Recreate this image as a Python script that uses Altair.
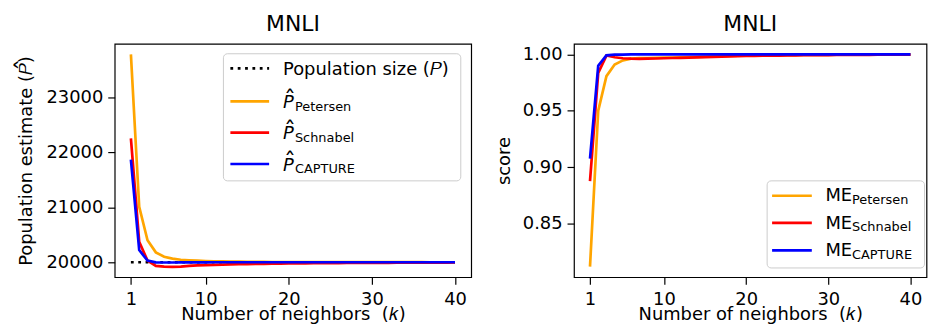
import altair as alt
import pandas as pd

# ---------------- data ----------------
k = list(range(1, 41))

pop_size = [20000] * 40

petersen_est = [23781, 21010, 20400, 20180, 20100, 20065, 20045, 20035, 20028, 20022,
                20018, 20015, 20012, 20010, 20008, 20007, 20006, 20005, 20005, 20004,
                20004, 20003, 20003, 20003, 20002, 20002, 20002, 20002, 20002, 20001,
                20001, 20001, 20001, 20001, 20001, 20001, 20000, 20000, 20000, 20000]

schnabel_est = [22255, 20370, 20030, 19935, 19921, 19915, 19920, 19935, 19942, 19948,
                19952, 19956, 19960, 19963, 19966, 19969, 19971, 19973, 19975, 19977,
                19979, 19980, 19982, 19983, 19984, 19985, 19986, 19987, 19988, 19989,
                19990, 19990, 19991, 19992, 19992, 19993, 19993, 19994, 19994, 19995]

capture_est = [21867, 20221, 20029, 19998, 19996, 19996, 19997, 19998, 19998, 19999,
               20000, 20000, 20000, 20000, 20000, 20000, 20000, 20000, 20000, 20000,
               20000, 20000, 20000, 20000, 20000, 20000, 20000, 20000, 20000, 20000,
               20000, 20000, 20000, 20000, 20000, 20000, 20000, 20000, 20000, 20000]

petersen_me = [0.8117, 0.9500, 0.9807, 0.9910, 0.9947, 0.9963, 0.9967, 0.9968, 0.9969, 0.9971,
               0.9973, 0.9975, 0.9977, 0.9979, 0.9981, 0.9983, 0.9985, 0.9986, 0.9988, 0.9989,
               0.9990, 0.9991, 0.9992, 0.9993, 0.9994, 0.9994, 0.9995, 0.9995, 0.9996, 0.9996,
               0.9997, 0.9997, 0.9997, 0.9998, 0.9998, 0.9998, 0.9998, 0.9999, 0.9999, 0.9999]

schnabel_me = [0.8875, 0.9836, 0.9990, 0.9975, 0.9966, 0.9962, 0.9961, 0.9962, 0.9964, 0.9966,
               0.9968, 0.9970, 0.9972, 0.9974, 0.9976, 0.9978, 0.9980, 0.9982, 0.9984, 0.9986,
               0.9987, 0.9988, 0.9989, 0.9990, 0.9991, 0.9992, 0.9993, 0.9993, 0.9994, 0.9994,
               0.9995, 0.9995, 0.9996, 0.9996, 0.9996, 0.9997, 0.9997, 0.9997, 0.9998, 0.9998]

capture_me = [0.9075, 0.9900, 0.9992, 0.9998, 0.9999, 1.0, 1.0, 1.0, 1.0, 1.0,
              1.0, 1.0, 1.0, 1.0, 1.0, 1.0, 1.0, 1.0, 1.0, 1.0,
              1.0, 1.0, 1.0, 1.0, 1.0, 1.0, 1.0, 1.0, 1.0, 1.0,
              1.0, 1.0, 1.0, 1.0, 1.0, 1.0, 1.0, 1.0, 1.0, 1.0]

x_ticks = [1, 10, 20, 30, 40]
left_ticks = [20000, 21000, 22000, 23000]
right_ticks = [0.85, 0.90, 0.95, 1.00]

sub_names = ["Petersen", "Schnabel", "CAPTURE"]
colors = ["#FFA500", "#FF0000", "#0000FF"]

FONT = "DejaVu Sans"

left_df = pd.DataFrame({"k": k, "pop": pop_size, "Petersen": petersen_est,
                        "Schnabel": schnabel_est, "CAPTURE": capture_est})
right_df = pd.DataFrame({"k": k, "Petersen": petersen_me,
                         "Schnabel": schnabel_me, "CAPTURE": capture_me})

PW_L, PW_R, PH = 359, 355, 235

x_enc = alt.X("k:Q", scale=alt.Scale(domain=[-0.95, 41.95], nice=False, zero=False),
              axis=alt.Axis(values=x_ticks, title="Number of neighbors\u00a0 (𝑘)"))


def y_left(field):
    return alt.Y(f"{field}:Q",
                 scale=alt.Scale(domain=[19728, 23974], nice=False, zero=False),
                 axis=alt.Axis(values=left_ticks, format="d", titlePadding=11,
                               title="Population estimate (𝑃)"))


def y_right(field):
    return alt.Y(f"{field}:Q",
                 scale=alt.Scale(domain=[0.8023, 1.0094], nice=False, zero=False),
                 axis=alt.Axis(values=right_ticks, format=".2f", titlePadding=9,
                               title="score"))


def one(text):
    return pd.DataFrame({"t": [text]})


def legend_box(x0, x1, y0, y1):
    return alt.Chart(one("")).mark_rect(
        cornerRadius=4, fill="white", fillOpacity=0.85, stroke="#cccccc", strokeWidth=1
    ).encode(x=alt.value(x0), x2=alt.value(x1), y=alt.value(y0), y2=alt.value(y1))


def legend_line(x0, x1, y, color, dash=None):
    kw = dict(color=color, strokeWidth=2.7)
    if dash:
        kw["strokeDash"] = dash
    return alt.Chart(one("")).mark_rule(**kw).encode(
        x=alt.value(x0), x2=alt.value(x1), y=alt.value(y))


def legend_text(text, x, y, size, style="normal", align="left", angle=0):
    return alt.Chart(one(text)).mark_text(
        align=align, baseline="alphabetic", font=FONT, fontSize=size,
        fontStyle=style, color="black", angle=angle
    ).encode(text="t:N", x=alt.value(x), y=alt.value(y))


HAT = "ˆ"

# ---------------- left panel ----------------
left_layers = [
    alt.Chart(left_df).mark_line(color="black", strokeWidth=2.7, strokeDash=[2.8, 4.6])
    .encode(x=x_enc, y=y_left("pop"))
]
for name, c in zip(sub_names, colors):
    left_layers.append(alt.Chart(left_df).mark_line(color=c, strokeWidth=2.7)
                       .encode(x=x_enc, y=y_left(name)))

left_layers.append(legend_box(109.5, 348.5, 10, 138))
left_layers.append(legend_line(116.5, 155.5, 24.7, "black", [2.8, 4.6]))
left_layers.append(legend_text("Population size (𝑃)", 169.5, 31.3, 18))
for i, (name, c) in enumerate(zip(sub_names, colors)):
    ly = [58, 89.5, 121][i]
    left_layers.append(legend_line(116.5, 155.5, ly, c))
    left_layers.append(legend_text("P", 169.5, ly + 6.7, 18, style="italic"))
    left_layers.append(legend_text(HAT, 176.5, ly + 5.5, 24, align="center"))
    left_layers.append(legend_text(name, 181.5, ly + 9.3, 13))

# hat over the P of the y-axis title
left_layers.append(legend_text(HAT, -83.5, 21, 24, align="center", angle=270))

left = alt.layer(*left_layers).properties(
    width=PW_L, height=PH,
    title=alt.TitleParams("MNLI", fontSize=22, font=FONT, fontWeight="normal", offset=8)
)

# ---------------- right panel ----------------
right_layers = []
for name, c in zip(sub_names, colors):
    right_layers.append(alt.Chart(right_df).mark_line(color=c, strokeWidth=2.7)
                        .encode(x=x_enc, y=y_right(name)))

right_layers.append(legend_box(194.5, 353.0, 138, 225.7))
for i, (name, c) in enumerate(zip(sub_names, colors)):
    ly = [153, 180.3, 208][i]
    right_layers.append(legend_line(199.5, 239.5, ly, c))
    right_layers.append(legend_text("ME", 253.2, ly + 5.7, 18))
    right_layers.append(legend_text(name, 280, ly + 8.3, 13))

right = alt.layer(*right_layers).properties(
    width=PW_R, height=PH,
    title=alt.TitleParams("MNLI", fontSize=22, font=FONT, fontWeight="normal", offset=8)
)

chart = alt.hconcat(left, right, spacing=22.5).properties(
    padding={"left": 11.5, "top": 11, "right": 0, "bottom": 0}
).configure_view(
    stroke="black", strokeWidth=1.2
).configure_axis(
    grid=False, domain=False, ticks=True, tickSize=7, tickWidth=1.2, tickColor="black",
    labelFont=FONT, labelFontSize=18, labelColor="black", labelPadding=5,
    titleFont=FONT, titleFontSize=18, titleFontWeight="normal", titleColor="black"
).configure_axisX(labelFlush=False, labelOverlap=False, labelPadding=6, titlePadding=-2
).configure_axisY(labelOverlap=False)

chart.save("out.html", embed_options={"renderer": "svg", "actions": False})
